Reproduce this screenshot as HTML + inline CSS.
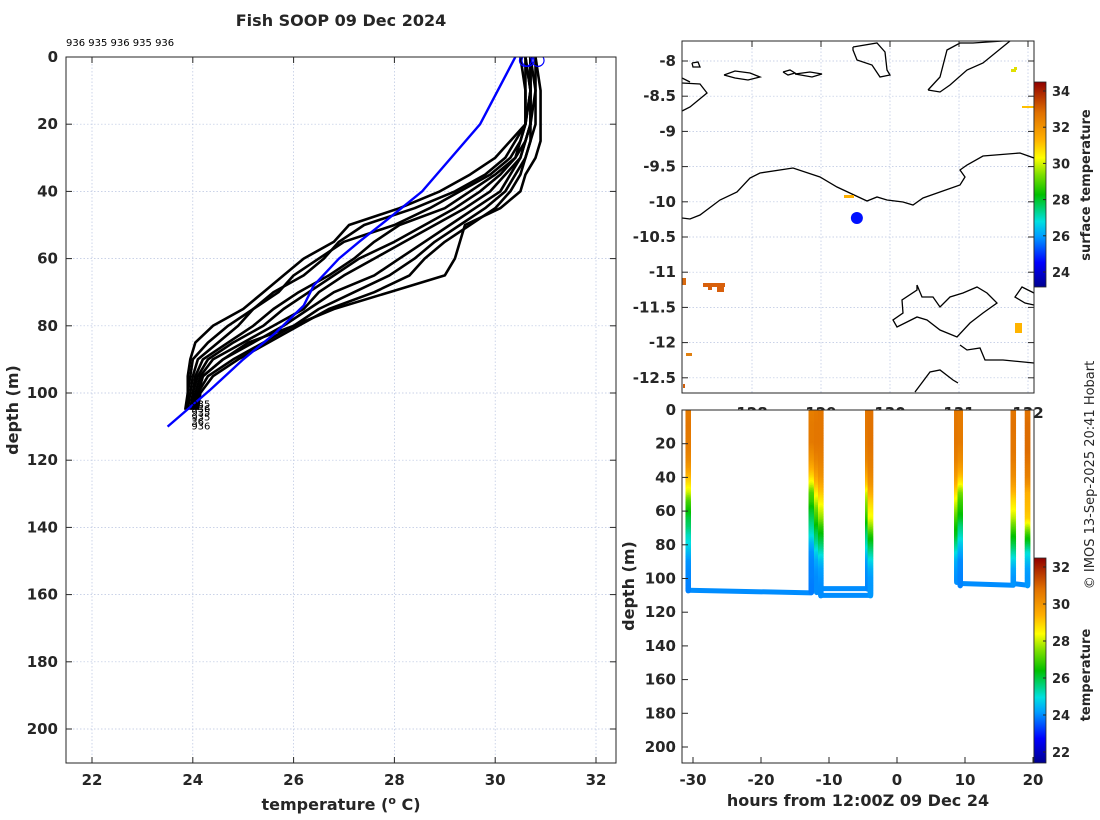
<!DOCTYPE html>
<html><head><meta charset="utf-8">
<style>
html,body{margin:0;padding:0;background:#fff;}
svg{display:block;font-family:"DejaVu Sans","Liberation Sans",sans-serif;}
.tk{font-size:15px;font-weight:bold;fill:#262626;}
.cb{font-size:13px;font-weight:bold;fill:#262626;}
.lab{font-size:16px;font-weight:bold;fill:#262626;}
</style></head>
<body>
<svg id="fig" width="1100" height="820" viewBox="0 0 1100 820">
<defs>
<clipPath id="clipL"><rect x="66" y="57" width="550" height="706"/></clipPath>
<clipPath id="clipM"><rect x="682" y="41" width="352" height="352"/></clipPath>
<clipPath id="clipB"><rect x="682" y="410" width="352" height="353"/></clipPath>
<linearGradient id="jet1" x1="0" y1="1" x2="0" y2="0">
<stop offset="0" stop-color="#00008f"/><stop offset="0.12" stop-color="#0000ff"/><stop offset="0.25" stop-color="#00a0ff"/><stop offset="0.32" stop-color="#00e0e0"/><stop offset="0.45" stop-color="#00c000"/><stop offset="0.55" stop-color="#80e000"/><stop offset="0.63" stop-color="#ffff00"/><stop offset="0.72" stop-color="#ffb000"/><stop offset="0.85" stop-color="#e07000"/><stop offset="1" stop-color="#900000"/>
</linearGradient>
</defs>
<text x="341" y="26" text-anchor="middle" class="lab">Fish SOOP 09 Dec 2024</text>
<text x="66" y="46" style="font-size:10px" fill="#000">936 935 936 935 936</text>
<g id="left"></g>
<g id="map"></g>
<g id="bot"></g>
<text transform="translate(1094,475) rotate(-90)" text-anchor="middle" style="font-size:13px" fill="#262626">© IMOS 13-Sep-2025 20:41 Hobart</text>
</svg>
<script>
const NS='http://www.w3.org/2000/svg';
function mk(parent,tag,attrs,txt){const e=document.createElementNS(NS,tag);for(const k in attrs)e.setAttribute(k,attrs[k]);if(txt!==undefined)e.textContent=txt;parent.appendChild(e);return e;}

// ---------- data ----------
const depths=[0,10,20,25,30,35,40,45,50,55,60,65,70,75,80,85,90,95,100,105];
const prof1=[30.5,30.6,30.6,30.3,30.0,29.5,28.9,28.1,27.1,26.8,26.2,25.8,25.4,25.0,24.4,24.05,23.95,23.9,23.9,23.85];
const prof2=[30.6,30.6,30.6,30.4,30.2,29.8,29.2,28.4,27.4,26.9,26.6,26.2,25.6,25.2,24.7,24.3,24.0,23.95,23.9,23.9];
const prof3=[30.6,30.7,30.6,30.5,30.3,29.9,29.3,28.7,28.0,27.0,26.5,26.0,25.7,25.2,24.9,24.5,24.1,24.0,23.95,23.9];
const prof4=[30.7,30.7,30.6,30.5,30.4,30.0,29.5,29.0,28.1,27.6,27.2,26.7,26.1,25.6,25.2,24.7,24.2,24.05,24.0,23.95];
const prof5=[30.6,30.7,30.7,30.6,30.4,30.1,29.7,29.2,28.6,28.0,27.3,26.8,26.3,25.8,25.4,24.8,24.3,24.1,24.0,24.0];
const prof6=[30.7,30.7,30.7,30.6,30.5,30.2,29.9,29.4,28.8,28.2,27.6,27.0,26.5,26.2,25.6,25.0,24.4,24.15,24.05,24.0];
const prof7=[30.7,30.7,30.7,30.6,30.5,30.3,30.1,29.6,29.1,28.6,28.1,27.6,26.8,26.3,25.8,25.2,24.6,24.2,24.1,24.0];
const prof8=[30.7,30.8,30.7,30.7,30.6,30.4,30.2,29.8,29.3,28.8,28.4,27.9,27.2,26.5,26.0,25.4,24.8,24.3,24.1,24.05];
const prof9=[30.8,30.8,30.8,30.7,30.6,30.5,30.3,30.0,29.5,29.0,28.6,28.3,27.6,26.7,26.1,25.5,24.9,24.4,24.15,24.1];
const prof10=[30.8,30.9,30.9,30.9,30.8,30.6,30.5,30.1,29.4,29.3,29.2,29.0,27.9,26.8,26.0,25.1,24.6,24.2,24.1,24.1];
const profiles=[prof1,prof2,prof3,prof4,prof5,prof6,prof7,prof8,prof9,prof10];
const climDepth=[0,20,40,48.5,55,60,68,74,82,90,99,110];
const climTemp=[30.4,29.7,28.55,27.85,27.3,26.9,26.4,26.2,25.65,25.0,24.35,23.5];
const surfTemps=[30.6,30.65,30.85];
const castLabels=["935","936","935","935","36","936"];
const xTicksL=[22,24,26,28,30,32];
const yTicksL=[0,20,40,60,80,100,120,140,160,180,200];

const latTicks=[-8,-8.5,-9,-9.5,-10,-10.5,-11,-11.5,-12,-12.5];
const lonTicks=[128,129,130,131,132];
const shipLon=[129.52], shipLat=[-10.23];
const sstCb=[24,26,28,30,32,34];

const castHours=[-30.7,-12.6,-11.8,-11.2,-4.3,-3.9,8.8,9.3,17.1,19.2];
const castBottom=[107,108,108,110,106,110,102,104,103,104];
const castProfile=[2,0,4,6,3,8,5,1,7,9];
const trackStart=[-30.7,-11.2,-11.2,9.3,17.1];
const trackEnd=[-12.6,-4.3,-3.9,17.1,19.2];
const trackDepthA=[107,106,110,103,103];
const trackDepthB=[108.5,106,110,104,104];
const hTicks=[-30,-20,-10,0,10,20];
const dTicksB=[0,20,40,60,80,100,120,140,160,180,200];
const tCb=[22,24,26,28,30,32];

const CM=[[0,0,0,143],[0.12,0,0,255],[0.25,0,160,255],[0.32,0,224,224],[0.45,0,192,0],[0.55,128,224,0],[0.63,255,255,0],[0.72,255,176,0],[0.85,224,112,0],[1,144,0,0]];
function jet(t,lo,hi){let f=(t-lo)/(hi-lo);f=Math.max(0,Math.min(1,f));
 let i=0;while(i<CM.length-2&&CM[i+1][0]<f)i++;
 const a=CM[i],b=CM[i+1],u=(f-a[0])/(b[0]-a[0]);
 return `rgb(${Math.round(a[1]+(b[1]-a[1])*u)},${Math.round(a[2]+(b[2]-a[2])*u)},${Math.round(a[3]+(b[3]-a[3])*u)})`;}
const grid={stroke:'#b8c4e0','stroke-width':0.7,'stroke-dasharray':'1.5,2'};

// ---------- left profile plot ----------
(function(){
const g=document.getElementById('left');
const X=t=>92+(t-22)*50.4, Y=d=>57+d*3.36;
const x0=66,x1=616,y0=57,y1=763;
xTicksL.forEach(t=>{mk(g,'line',Object.assign({x1:X(t),x2:X(t),y1:y0,y2:y1},grid));});
yTicksL.forEach(d=>{mk(g,'line',Object.assign({x1:x0,x2:x1,y1:Y(d),y2:Y(d)},grid));});
const pg=mk(g,'g',{'clip-path':'url(#clipL)'});
profiles.forEach((p,i)=>{
 const pts=p.map((t,j)=>X(t)+','+Y(depths[j])).join(' ');
 const l=mk(pg,'polyline',{points:pts,fill:'none',stroke:'#000','stroke-width':2.6,'stroke-linejoin':'round'});
 
 
});
const cl=mk(pg,'polyline',{points:climTemp.map((t,j)=>X(t)+','+Y(climDepth[j])).join(' '),fill:'none',stroke:'#0000ff','stroke-width':2.4});


surfTemps.forEach(t=>{const c=mk(pg,'circle',{cx:X(t),cy:Y(1),r:6,fill:'none',stroke:'#0000ff','stroke-width':1.2});
 
 });
castLabels.forEach((s,i)=>{const t=mk(g,'text',{x:X(24.05)-4,y:Y(104+i*1.3)+1,style:'font-size:10px',fill:'#000'},s);
 
 });
mk(g,'rect',{x:x0,y:y0,width:x1-x0,height:y1-y0,fill:'none',stroke:'#262626','stroke-width':1});
xTicksL.forEach(t=>{mk(g,'line',{x1:X(t),x2:X(t),y1:y1,y2:y1-6,stroke:'#262626'});mk(g,'line',{x1:X(t),x2:X(t),y1:y0,y2:y0+6,stroke:'#262626'});
 const tx=mk(g,'text',{x:X(t),y:785,'text-anchor':'middle',class:'tk'},String(t));
 
 });
yTicksL.forEach(d=>{mk(g,'line',{x1:x0,x2:x0+6,y1:Y(d),y2:Y(d),stroke:'#262626'});mk(g,'line',{x1:x1,x2:x1-6,y1:Y(d),y2:Y(d),stroke:'#262626'});
 const tx=mk(g,'text',{x:58,y:Y(d)+5,'text-anchor':'end',class:'tk'},String(d));
 
 });
const xl=mk(g,'text',{x:341,y:810,'text-anchor':'middle',class:'lab'});
xl.innerHTML='temperature (<tspan dy="-6" style="font-size:11px">o</tspan><tspan dy="6"> C)</tspan>';


const yl=mk(g,'text',{transform:'translate(18,410) rotate(-90)','text-anchor':'middle',class:'lab'},'depth (m)');


})();

// ---------- map ----------
(function(){
const g=document.getElementById('map');
const X=lo=>752+(lo-128)*69, Y=la=>61+(-8-la)*70.4;
const x0=682,x1=1034,y0=41,y1=393;
lonTicks.forEach(l=>{mk(g,'line',Object.assign({x1:X(l),x2:X(l),y1:y0,y2:y1},grid));
 const t=mk(g,'text',{x:X(l),y:418,'text-anchor':'middle',class:'tk'},String(l));
 
 });
latTicks.forEach(l=>{mk(g,'line',Object.assign({x1:x0,x2:x1,y1:Y(l),y2:Y(l)},grid));
 const t=mk(g,'text',{x:676,y:Y(l)+5,'text-anchor':'end',class:'tk'},String(l));
 
 });
const cg=mk(g,'g',{'clip-path':'url(#clipM)',fill:'none',stroke:'#000','stroke-width':1.3});
const coasts=[
 '682,218 690,219 700,215 720,200 737,192 750,178 760,173 793,168 820,177 837,187 867,201 877,197 887,200 903,202 913,205 923,198 940,192 960,185 965,177 960,170 967,165 983,156 1020,153 1034,158',
 '917,285 922,297 933,297 940,307 950,297 963,293 977,287 987,293 997,303 983,313 970,323 957,337 940,330 927,320 917,317 897,327 893,320 903,313 902,300 917,290 917,285',
 '960,345 967,350 980,348 985,360 1003,360 1034,363',
 '915,392 930,372 940,370 953,380 958,383',
 '928,90 940,77 947,50 960,43 973,43 1003,41 1010,41 983,63 967,70 950,85 940,92 928,90',
 '853,47 877,43 885,52 887,70 890,75 880,77 872,65 857,60 853,50 853,47',
 '692,63 698,62 700,67 693,67 692,63',
 '724,75 735,71 750,73 760,77 748,80 735,78 724,75',
 '783,72 790,70 795,73 788,75 783,72',
 '795,74 810,72 822,74 812,77 795,74',
 '682,83 700,84 707,93 690,107 682,111',
 '1034,293 1022,287 1015,297 1025,303 1034,305',
 '682,78 690,82'];
coasts.forEach((p,i)=>{const l=mk(cg,'polyline',{points:p});
 
 });
const patches=[[682,278,4,7,'#d86a10'],[703,283,22,4,'#d8600c'],[717,283,7,9,'#d8600c'],[708,286,4,4,'#d8600c'],[1015,323,7,10,'#ffb400'],[686,353,6,3,'#e08010'],[683,384,2,4,'#d0600c'],[1011,69,5,3,'#e0e000'],[1014,67,3,3,'#e0e000'],[1022,106,12,2,'#ffc000'],[844,195,10,3,'#ffb000']];
patches.forEach(p=>{const r=mk(g,'rect',{x:p[0],y:p[1],width:p[2],height:p[3],fill:p[4]});
 
 });
shipLon.forEach((lo,i)=>{const c=mk(g,'circle',{cx:X(lo),cy:Y(shipLat[i]),r:6,fill:'#0010ff'});
 
 });
mk(g,'rect',{x:x0,y:y0,width:x1-x0,height:y1-y0,fill:'none',stroke:'#262626'});
lonTicks.forEach(l=>{mk(g,'line',{x1:X(l),x2:X(l),y1:y0,y2:y0+6,stroke:'#262626'});});
latTicks.forEach(l=>{mk(g,'line',{x1:x0,x2:x0+6,y1:Y(l),y2:Y(l),stroke:'#262626'});mk(g,'line',{x1:x1,x2:x1-6,y1:Y(l),y2:Y(l),stroke:'#262626'});});
const CY=t=>272-(t-24)*18.1;
const cb=mk(g,'rect',{x:1034,y:82,width:12,height:205,fill:'url(#jet1)',stroke:'#262626','stroke-width':0.8});


sstCb.forEach(t=>{mk(g,'line',{x1:1043,x2:1046,y1:CY(t),y2:CY(t),stroke:'#262626'});
 const tx=mk(g,'text',{x:1052,y:CY(t)+5,class:'cb'},String(t));
 
 });
const ct=mk(g,'text',{transform:'translate(1090,185) rotate(-90)','text-anchor':'middle',class:'cb'},'surface temperature');


})();

// ---------- bottom time-depth ----------
(function(){
const g=document.getElementById('bot');
const X=h=>897+h*6.8, Y=d=>410+d*1.685;
const x0=682,x1=1034,y0=410,y1=763;
mk(g,'rect',{x:x0,y:y0,width:x1-x0,height:y1-y0,fill:'#fff'});
const pg=mk(g,'g',{'clip-path':'url(#clipB)'});
trackStart.forEach((s,i)=>{
 const l=mk(pg,'line',{x1:X(s),x2:X(trackEnd[i]),y1:Y(trackDepthA[i]),y2:Y(trackDepthB[i]),stroke:jet(24.0,21.4,32.5),'stroke-width':5,'stroke-linecap':'round'});
 
 
});
castHours.forEach((h,i)=>{
 const p=profiles[castProfile[i]];
 const cg=mk(pg,'g',{});
 
 
 for(let d=0;d<castBottom[i];d+=1){
  let j=0;while(j<depths.length-2&&depths[j+1]<=d)j++;
  const f=Math.min(1,(d-depths[j])/(depths[j+1]-depths[j]));
  const t=p[j]+(p[j+1]-p[j])*f;
  mk(cg,'line',{x1:X(h),x2:X(h),y1:Y(d),y2:Y(d+1.2),stroke:jet(t,21.4,32.5),'stroke-width':5.5,'stroke-linecap':'round'});
 }
});
mk(g,'rect',{x:x0,y:y0,width:x1-x0,height:y1-y0,fill:'none',stroke:'#262626'});
hTicks.forEach(h=>{mk(g,'line',{x1:X(h),x2:X(h),y1:y1,y2:y1-6,stroke:'#262626'});
 const t=mk(g,'text',{x:X(h),y:785,'text-anchor':'middle',class:'tk'},String(h));
 
 });
dTicksB.forEach(d=>{mk(g,'line',{x1:x0,x2:x0+6,y1:Y(d),y2:Y(d),stroke:'#262626'});
 const t=mk(g,'text',{x:676,y:Y(d)+5,'text-anchor':'end',class:'tk'},String(d));
 
 });
const xl=mk(g,'text',{x:858,y:806,'text-anchor':'middle',class:'lab'},'hours from 12:00Z 09 Dec 24');


const yl=mk(g,'text',{transform:'translate(634,586) rotate(-90)','text-anchor':'middle',class:'lab'},'depth (m)');


const CY=t=>752-(t-22)*18.5;
const cb=mk(g,'rect',{x:1034,y:558,width:12,height:205,fill:'url(#jet1)',stroke:'#262626','stroke-width':0.8});


tCb.forEach(t=>{mk(g,'line',{x1:1043,x2:1046,y1:CY(t),y2:CY(t),stroke:'#262626'});
 const tx=mk(g,'text',{x:1052,y:CY(t)+5,class:'cb'},String(t));
 
 });
const ct=mk(g,'text',{transform:'translate(1090,675) rotate(-90)','text-anchor':'middle',class:'cb'},'temperature');


})();
</script>
</body></html>
